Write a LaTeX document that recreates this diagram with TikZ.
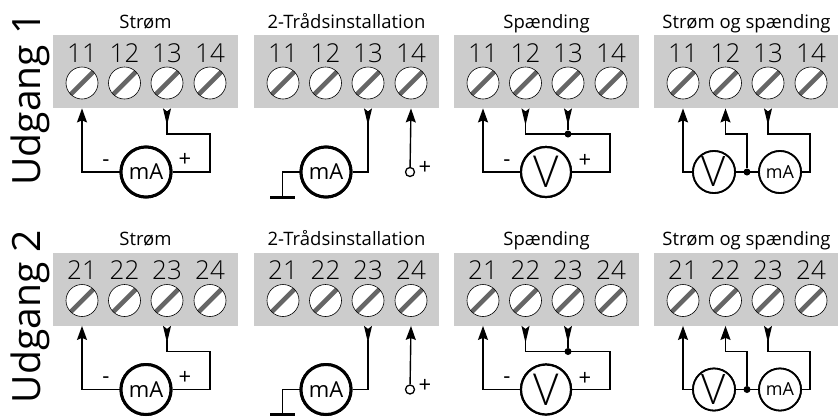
\documentclass[tikz,border=0pt]{standalone}
\usepackage{fontspec}
\setmainfont{Open Sans}
\newfontfamily\lightfont{Open Sans Light}
\usetikzlibrary{arrows.meta,calc}
\tikzset{
  panel/.style={fill=black!20,minimum width=185pt,minimum height=73pt,inner sep=0pt},
  screw/.style={circle,draw=black,line width=.6pt,fill=white,minimum size=32pt,inner sep=0pt,
    path picture={\draw[line width=4.6pt,black!60] (path picture bounding box.south west)--(path picture bounding box.north east);}},
  meterbig/.style={circle,draw=black,fill=white,line width=3pt,minimum size=50pt,inner sep=0pt,font=\fontsize{22}{22}\selectfont},
  metervolt/.style={meterbig,line width=2.2pt,font=\lightfont\fontsize{44}{44}\selectfont},
  metersmall/.style={circle,draw=black,fill=white,line width=1.8pt,minimum size=42pt,inner sep=0pt,font=\lightfont\fontsize{42}{42}\selectfont},
  wire/.style={line width=1.4pt},
  upwire/.style={wire,-{Stealth[length=14pt,width=10pt,inset=2pt]}},
  downwire/.style={wire,-{Stealth[length=17pt,width=8pt,inset=3pt,reversed]}},
  junction/.style={circle,fill=black,minimum size=7pt,inner sep=0pt},
  openend/.style={circle,draw=black,fill=white,line width=1.3pt,minimum size=9pt,inner sep=0pt},
  number/.style={font=\lightfont\fontsize{26}{26}\selectfont,inner sep=0pt,anchor=base},
  title/.style={font=\fontsize{18.5}{18.5}\selectfont,inner sep=0pt,anchor=base},
  sign/.style={font=\fontsize{22}{22}\selectfont,inner sep=0pt},
}
\begin{document}
\begin{tikzpicture}[x=1pt,y=-1pt]
  \useasboundingbox (0,0) rectangle (838,416);
  \foreach \row/\dy/\lab in {1/0/1,2/217.5/2}{
    \begin{scope}[shift={(0,\dy)}]
      \node[rotate=90,font=\fontsize{39}{39}\selectfont,inner sep=0pt,anchor=base] (out\row) at (40,99) {Udgang \lab};
      \foreach \pan/\px/\name in {1/53/Strøm,2/254/2-Trådsinstallation,3/454/Spænding,4/654/Strøm og spænding}{
        \node[panel,anchor=north west] (p\row\pan) at (\px,35) {};
        \node[title] (t\row\pan) at (\px+92.5,28) {\name};
        \foreach \k/\kx in {1/29,2/71.5,3/114,4/157}{
          \node[number] (n\row\pan\k) at (\px+\kx,62) {\lab\k};
          \node[screw] (s\row\pan\k) at (\px+\kx,83) {};
        }
      }
      % Strom
      \node[meterbig] (m\row1) at (146,172) {mA};
      \coordinate (r\row1) at (210,134);
      \draw[upwire] (m\row1) -| (s\row11 |- p\row1.south);
      \draw[downwire] (m\row1) -| (r\row1) -- (s\row13 |- r\row1) -- (s\row13 |- p\row1.south);
      \node[meterbig] (m\row1) at (146,172) {mA};
      \node[sign] (minus\row1) at (106,163) {-};
      \node[sign] (plus\row1) at (185,160) {+};
      % 2-traad
      \node[meterbig] (m\row2) at (326,172) {mA};
      \coordinate (g\row2) at (282.5,197);
      \coordinate (gl\row2) at (270,197);
      \coordinate (gr\row2) at (295,197);
      \node[openend] (o\row2) at (410,172) {};
      \draw[wire] (m\row2) -| (g\row2);
      \draw[line width=3pt] (gl\row2) -- (gr\row2);
      \draw[downwire] (m\row2) -| (s\row23 |- p\row2.south);
      \draw[upwire] (o\row2) -- (s\row24 |- p\row2.south);
      \node[meterbig] (m\row2) at (326,172) {mA};
      \node[sign] (plus\row2) at (425,168) {+};
      % Spaending
      \node[metervolt] (m\row3) at (546,172) {V};
      \coordinate (r\row3) at (610,134);
      \draw[upwire] (m\row3) -| (s\row31 |- p\row3.south);
      \draw[downwire] (m\row3) -| (r\row3) -- (s\row32 |- r\row3) -- (s\row32 |- p\row3.south);
      \node[junction] (j\row3) at (s\row33 |- r\row3) {};
      \draw[downwire] (j\row3) -- (s\row33 |- p\row3.south);
      \node[metervolt] (m\row3) at (546,172) {V};
      \node[sign] (minus\row3) at (507,163) {-};
      \node[sign] (plus\row3) at (585,161) {+};
      % Strom og spaending
      \node[metersmall] (v\row4) at (714,172) {V};
      \node[metersmall,font=\fontsize{18}{18}\selectfont] (m\row4) at (780,172) {mA};
      \node[junction] (j\row4) at (747,172) {};
      \coordinate (a\row4) at (747,134);
      \coordinate (r\row4) at (810,134);
      \draw[upwire] (v\row4) -| (s\row41 |- p\row4.south);
      \draw[wire] (v\row4) -- (m\row4);
      \draw[upwire] (j\row4) -- (a\row4) -- (s\row42 |- a\row4) -- (s\row42 |- p\row4.south);
      \draw[downwire] (m\row4) -| (r\row4) -- (s\row43 |- r\row4) -- (s\row43 |- p\row4.south);
      \node[metersmall] (v\row4) at (714,172) {V};
      \node[metersmall,font=\fontsize{18}{18}\selectfont] (m\row4) at (780,172) {mA};
    \end{scope}
  }
\end{tikzpicture}
\end{document}
